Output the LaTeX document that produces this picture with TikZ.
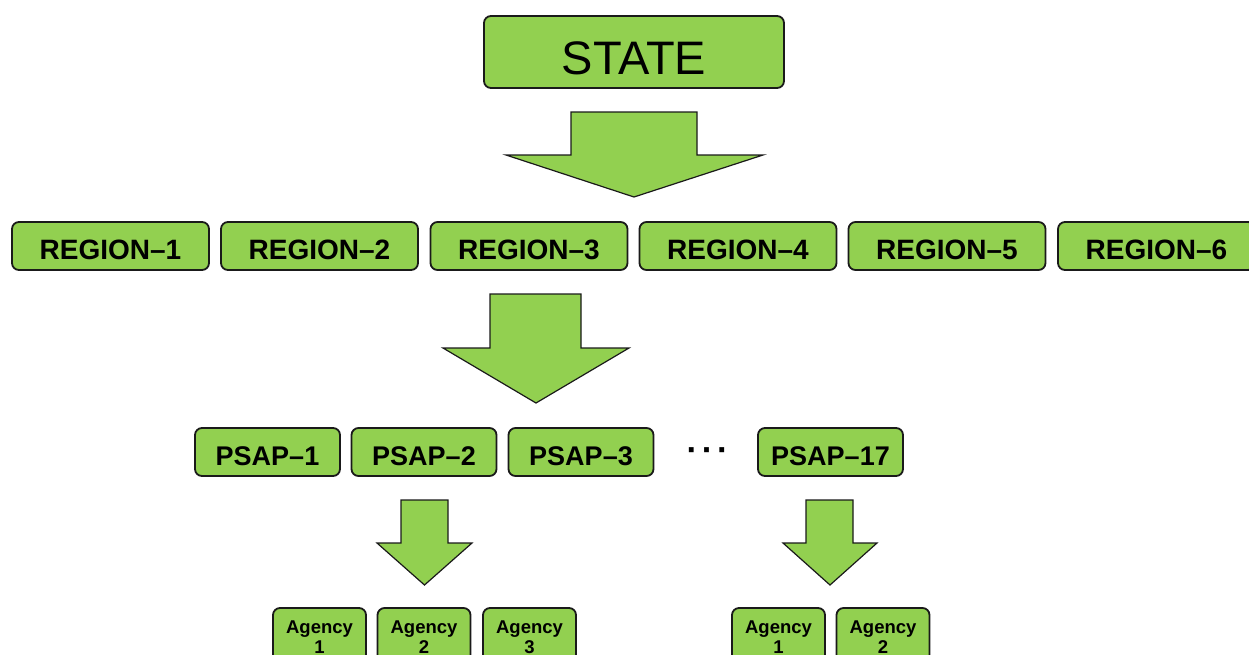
\documentclass[tikz,border=0pt]{standalone}
\usepackage{fontspec}
\setmainfont{Liberation Sans}
\definecolor{boxgreen}{HTML}{92D050}
\definecolor{edge}{HTML}{1A1A1A}
\begin{document}
\begin{tikzpicture}[x=1pt,y=-1pt,
  greenbox/.style={draw=edge,line width=1.8pt,fill=boxgreen,rounded corners=7pt,
    inner sep=0pt,align=center,text=black},
  statebox/.style={greenbox,minimum width=300pt,minimum height=72pt,
    text height=44pt,text depth=0pt,font=\fontsize{47}{50}\selectfont},
  regionbox/.style={greenbox,minimum width=197pt,minimum height=48pt,
    text height=26pt,text depth=0pt,font=\fontsize{28}{30}\selectfont\bfseries},
  psapbox/.style={greenbox,minimum width=145pt,minimum height=48pt,
    text height=26pt,text depth=0pt,font=\fontsize{27}{29}\selectfont\bfseries},
  agencybox/.style={greenbox,minimum width=93pt,minimum height=58pt,font=\fontsize{18.5}{20.5}\selectfont\bfseries},
  blockarrow/.style={draw=edge,line width=1.2pt,fill=boxgreen,line join=miter}]
\useasboundingbox (0,0) rectangle (1249,654);
\clip (0,0) rectangle (1249,654);

% top level
\node[statebox] (state) at (634,52) {STATE};

% regions
\node[regionbox] (r1) at (110.5,246) {REGION–1};
\node[regionbox] (r2) at (319.5,246) {REGION–2};
\node[regionbox] (r3) at (529,246) {REGION–3};
\node[regionbox] (r4) at (738,246) {REGION–4};
\node[regionbox] (r5) at (947,246) {REGION–5};
\node[regionbox] (r6) at (1156.5,246) {REGION–6};

% PSAPs
\node[psapbox] (p1) at (267.5,452) {PSAP–1};
\node[psapbox] (p2) at (424,452) {PSAP–2};
\node[psapbox] (p3) at (581,452) {PSAP–3};
\node[font=\fontsize{34}{36}\selectfont\bfseries] (dots) at (707.5,455) {·\hspace{4pt}·\hspace{4pt}·};
\node[psapbox] (p17) at (830.5,452) {PSAP–17};

% agencies
\node[agencybox] (a1) at (319.5,637) {Agency\\1};
\node[agencybox] (a2) at (424,637) {Agency\\2};
\node[agencybox] (a3) at (529.5,637) {Agency\\3};
\node[agencybox] (b1) at (778.5,637) {Agency\\1};
\node[agencybox] (b2) at (883,637) {Agency\\2};

% block arrows between the levels
\draw[blockarrow] (571,112) -- (697,112) -- (697,155) -- (763,155) -- (634,197)
  -- (506,155) -- (571,155) -- cycle;
\draw[blockarrow] (490,294) -- (581,294) -- (581,348) -- (629,348) -- (536,403)
  -- (443,348) -- (490,348) -- cycle;
\draw[blockarrow] (401,500) -- (448,500) -- (448,543) -- (472,543) -- (424.5,585)
  -- (377,543) -- (401,543) -- cycle;
\draw[blockarrow] (806,500) -- (853,500) -- (853,543) -- (877,543) -- (830,585)
  -- (783,543) -- (806,543) -- cycle;
\end{tikzpicture}
\end{document}
